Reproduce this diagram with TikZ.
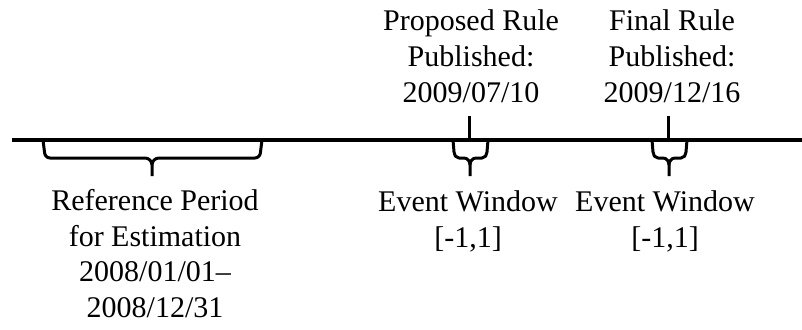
\documentclass[tikz,border=0pt]{standalone}
\usepackage{fontspec}
\setmainfont{Liberation Serif}
\begin{document}
\begin{tikzpicture}[x=1pt,y=-1pt,
  axisline/.style={line width=3.4pt},
  bracket/.style={line width=3pt,line join=round},
  lbl/.style={font=\fontsize{30}{35.5}\selectfont,align=center,inner sep=0pt,anchor=base}]
\useasboundingbox (0,0) rectangle (802,329);

% time axis
\coordinate (t0) at (12,140);
\coordinate (t1) at (802,140);
\draw[axisline] (t0) -- (t1);

% reference-period bracket
\coordinate (rl) at (43,140);
\coordinate (rr) at (262,140);
\coordinate (rc) at (152,176);
\draw[bracket] (rl) -- (44.5,152) to[out=-90,in=180] (50,158) -- (145,158)
  to[out=0,in=90] (152,165) -- (rc);
\draw[bracket] (rr) -- (260.5,152) to[out=-90,in=0] (255,158) -- (159,158)
  to[out=180,in=90] (152,165);

% event window around proposed-rule date
\coordinate (p0) at (469,116);
\coordinate (p1) at (469,140);
\draw[bracket] (p0) -- (p1);
\coordinate (el1) at (453,140);
\coordinate (er1) at (488,140);
\coordinate (ec1) at (470,176);
\draw[bracket] (el1) -- (454,152) to[out=-90,in=180] (459,158) -- (464,158)
  to[out=0,in=90] (470,165) -- (ec1);
\draw[bracket] (er1) -- (487,152) to[out=-90,in=0] (482,158) -- (476,158)
  to[out=180,in=90] (470,165);

% event window around final-rule date
\coordinate (f0) at (668,116);
\coordinate (f1) at (668,140);
\draw[bracket] (f0) -- (f1);
\coordinate (el2) at (652,140);
\coordinate (er2) at (687,140);
\coordinate (ec2) at (669,176);
\draw[bracket] (el2) -- (653,152) to[out=-90,in=180] (658,158) -- (663,158)
  to[out=0,in=90] (669,165) -- (ec2);
\draw[bracket] (er2) -- (686,152) to[out=-90,in=0] (681,158) -- (675,158)
  to[out=180,in=90] (669,165);

% labels (base anchor sits on the last line)
\node[lbl] (prop) at (471,102) {Proposed Rule\\Published:\\2009/07/10};
\node[lbl] (fin) at (672,102) {Final Rule\\Published:\\2009/12/16};
\node[lbl] (refp) at (155,317) {Reference Period\\for Estimation\\2008/01/01--\\2008/12/31};
\node[lbl] (ew1) at (468,247) {Event Window\\{[-1,1]}};
\node[lbl] (ew2) at (665,247) {Event Window\\{[-1,1]}};
\end{tikzpicture}
\end{document}
